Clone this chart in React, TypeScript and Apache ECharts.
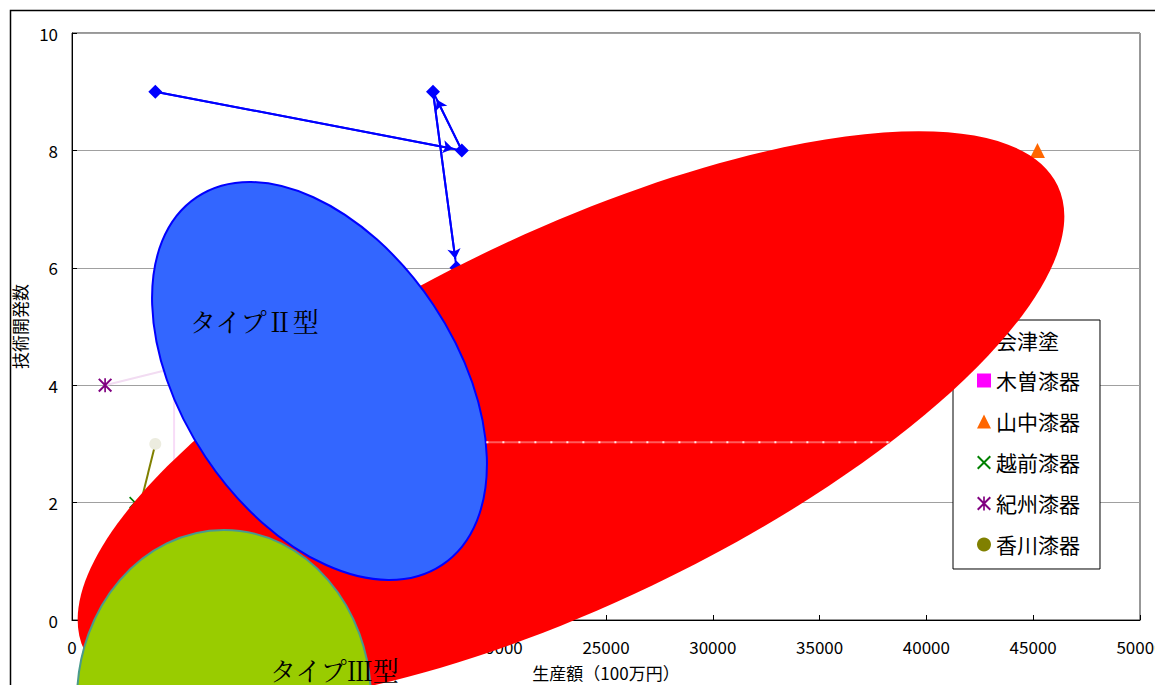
import { useEffect, useRef } from 'react';
import * as echarts from 'echarts';

// Series names (legend order)
const SERIES_NAMES = ['会津塗', '木曽漆器', '山中漆器', '越前漆器', '紀州漆器', '香川漆器'];

// [生産額(100万円), 技術開発数]
const aizuPoints = [
  [3900, 9],
  [18250, 8],
  [16900, 9],
  [18000, 6],
];
const kisoPoints = [
  [4780, 4.6],
  [4780, 2.4],
];
const yamanakaPoints = [[45200, 8]];
const echizenPoints = [[2950, 2]];
const kishuPoints = [
  [1550, 4],
  [6000, 4.4],
];
const kagawaPoints = [
  [3900, 3],
  [2780, 1.35],
];
const faintTrailPoints = [
  [19400, 3.03],
  [38300, 3.03],
];

// Axis ranges / tick spacing
const X_MIN = 0;
const X_MAX = 50000;
const X_STEP = 5000;
const Y_MIN = 0;
const Y_MAX = 10;
const Y_STEP = 2;

const X_AXIS_TITLE = '生産額（100万円）';
const Y_AXIS_TITLE = '技術開発数';
const TYPE2_LABEL = 'タイプⅡ型';
const TYPE3_LABEL = 'タイプⅢ型';

const GOTHIC = '"Noto Sans CJK JP", "Liberation Sans", sans-serif';
const MINCHO = '"Noto Serif CJK JP", "Liberation Serif", serif';

const X_MARK = 'path://M0,1L1,0L10,9L9,10ZM9,0L10,1L1,10L0,9Z';
const STAR_MARK = 'path://M0,1L1,0L10,9L9,10ZM9,0L10,1L1,10L0,9ZM4.4,0L5.6,0L5.6,10L4.4,10Z';

const ARROW_GAP = 9;

function buildOption(): any {
  return {
    animation: false,
    backgroundColor: '#ffffff',
    textStyle: { fontFamily: GOTHIC },
    grid: {
      left: 72,
      right: 15,
      top: 33,
      bottom: 65,
      outerBoundsMode: 'none',
      containLabel: false,
      show: true,
      borderColor: '#303030',
      borderWidth: 1,
      backgroundColor: 'transparent',
    },
    xAxis: {
      type: 'value',
      min: X_MIN,
      max: X_MAX,
      interval: X_STEP,
      name: X_AXIS_TITLE,
      nameLocation: 'middle',
      nameGap: 44,
      nameTextStyle: { fontSize: 17, color: '#000', fontFamily: GOTHIC },
      axisLine: { show: true, lineStyle: { color: '#000', width: 1 } },
      axisTick: { show: true, inside: true, length: 5, lineStyle: { color: '#000' } },
      axisLabel: {
        fontSize: 17,
        color: '#000',
        margin: 18,
        fontFamily: GOTHIC,
        formatter: (v: number) => String(v),
      },
      splitLine: { show: false },
    },
    yAxis: {
      type: 'value',
      min: Y_MIN,
      max: Y_MAX,
      interval: Y_STEP,
      name: Y_AXIS_TITLE,
      nameLocation: 'middle',
      nameRotate: 90,
      nameGap: 41,
      nameTextStyle: { fontSize: 17, color: '#000', fontFamily: GOTHIC },
      axisLine: { show: true, lineStyle: { color: '#000', width: 1 } },
      axisTick: { show: true, inside: true, length: 5, lineStyle: { color: '#000' } },
      axisLabel: {
        fontSize: 17,
        color: '#000',
        margin: 14,
        fontFamily: GOTHIC,
        formatter: (v: number) => String(v),
      },
      splitLine: { show: true, lineStyle: { color: '#a0a0a0', width: 1 } },
    },
    legend: {
      orient: 'vertical',
      left: 953,
      top: 320,
      padding: [9, 20, 14, 24],
      itemGap: 20,
      itemWidth: 14,
      itemHeight: 14,
      borderColor: '#000',
      borderWidth: 1,
      backgroundColor: '#fff',
      z: 4,
      textStyle: { fontSize: 21, lineHeight: 20, color: '#000', fontFamily: GOTHIC },
      data: [
        { name: SERIES_NAMES[0], icon: 'diamond' },
        { name: SERIES_NAMES[1], icon: 'rect' },
        { name: SERIES_NAMES[2], icon: 'triangle' },
        { name: SERIES_NAMES[3], icon: X_MARK },
        { name: SERIES_NAMES[4], icon: STAR_MARK },
        { name: SERIES_NAMES[5], icon: 'circle' },
      ],
    },
    series: [
      {
        name: SERIES_NAMES[0],
        type: 'line',
        data: aizuPoints,
        symbol: 'diamond',
        symbolSize: 14,
        itemStyle: { color: '#0000ff' },
        lineStyle: { color: '#0000ff', width: 2 },
        z: 3,
      },
      {
        id: 'aizu-arrows',
        type: 'lines',
        coordinateSystem: 'cartesian2d',
        symbol: ['none', 'arrow'],
        symbolSize: 10,
        lineStyle: { color: '#0000ff', width: 2, opacity: 1, curveness: 0 },
        data: [],
        z: 3,
      },
      {
        name: SERIES_NAMES[1],
        type: 'line',
        data: kisoPoints,
        symbol: 'rect',
        symbolSize: 11,
        itemStyle: { color: '#ff00ff' },
        lineStyle: { color: '#f8dcf8', width: 2 },
        z: 2,
      },
      {
        name: SERIES_NAMES[2],
        type: 'line',
        data: yamanakaPoints,
        symbol: 'triangle',
        symbolSize: 15,
        itemStyle: { color: '#ff6600' },
        lineStyle: { color: '#ff6600', width: 2 },
        z: 2,
      },
      {
        name: SERIES_NAMES[3],
        type: 'line',
        data: echizenPoints,
        symbol: X_MARK,
        symbolSize: 12,
        itemStyle: { color: '#008000' },
        lineStyle: { color: '#008000', width: 2 },
        z: 2,
      },
      {
        name: SERIES_NAMES[4],
        type: 'line',
        data: kishuPoints,
        symbol: STAR_MARK,
        symbolSize: 14,
        itemStyle: { color: '#800080' },
        lineStyle: { color: '#f2dcf2', width: 2 },
        z: 2,
      },
      {
        name: SERIES_NAMES[5],
        type: 'line',
        data: kagawaPoints.map((p, i) =>
          i === 0 ? { value: p, itemStyle: { color: '#ececdf' } } : { value: p }
        ),
        symbol: 'circle',
        symbolSize: 12,
        itemStyle: { color: '#808000' },
        lineStyle: { color: '#808000', width: 2 },
        z: 2,
      },
      // pale trail running across the red region
      {
        type: 'line',
        data: faintTrailPoints,
        symbol: 'none',
        lineStyle: { color: '#ff5a5a', width: 2 },
        z: 20,
        silent: true,
      },
      {
        type: 'line',
        data: faintTrailPoints,
        symbol: 'none',
        lineStyle: { color: '#ffe6e6', width: 2, type: [2, 14] },
        z: 21,
        silent: true,
      },
    ],
    graphic: [
      {
        type: 'rect',
        z: 0,
        silent: true,
        shape: { x: 10.5, y: 10.5, width: 1400, height: 900 },
        style: { fill: 'none', stroke: '#000', lineWidth: 1.5 },
      },
      {
        type: 'ellipse',
        z: 10,
        silent: true,
        x: 571,
        y: 418,
        rotation: (25.5 * Math.PI) / 180,
        shape: { cx: 0, cy: 0, rx: 539, ry: 186 },
        style: { fill: '#ff0000', stroke: 'none' },
      },
      {
        type: 'ellipse',
        z: 11,
        silent: true,
        x: 319.5,
        y: 381,
        rotation: (-56.3 * Math.PI) / 180,
        shape: { cx: 0, cy: 0, rx: 221, ry: 137 },
        style: { fill: '#3366ff', stroke: '#0000ff', lineWidth: 2 },
      },
      {
        type: 'ellipse',
        z: 12,
        silent: true,
        x: 224,
        y: 700,
        shape: { cx: 0, cy: 0, rx: 147, ry: 170 },
        style: { fill: '#99cc00', stroke: '#4a9a8c', lineWidth: 2 },
      },
      {
        type: 'text',
        z: 30,
        silent: true,
        x: 190,
        y: 320,
        style: {
          text: TYPE2_LABEL,
          fontSize: 26,
          fontFamily: MINCHO,
          fill: '#000',
          verticalAlign: 'middle',
        },
      },
      {
        type: 'text',
        z: 30,
        silent: true,
        x: 270,
        y: 669,
        style: {
          text: TYPE3_LABEL,
          fontSize: 26,
          fontFamily: MINCHO,
          fill: '#000',
          verticalAlign: 'middle',
        },
      },
    ],
  };
}

export default function App() {
  const ref = useRef<HTMLDivElement>(null);

  useEffect(() => {
    if (!ref.current) return;
    const chart = echarts.init(ref.current, null, { renderer: 'svg' });
    chart.setOption(buildOption());

    // Arrowheads stop just short of each diamond marker
    const arrows: any[] = [];
    for (let i = 0; i < aizuPoints.length - 1; i++) {
      const a = chart.convertToPixel({ gridIndex: 0 }, aizuPoints[i]) as number[];
      const b = chart.convertToPixel({ gridIndex: 0 }, aizuPoints[i + 1]) as number[];
      const dx = b[0] - a[0];
      const dy = b[1] - a[1];
      const len = Math.hypot(dx, dy) || 1;
      const end = [b[0] - (dx / len) * ARROW_GAP, b[1] - (dy / len) * ARROW_GAP];
      const endData = chart.convertFromPixel({ gridIndex: 0 }, end) as number[];
      arrows.push({ coords: [aizuPoints[i], endData] });
    }
    chart.setOption({ series: [{ id: 'aizu-arrows', data: arrows }] });

    return () => chart.dispose();
  }, []);

  return (
    <div
      ref={ref}
      style={{ position: 'fixed', left: 0, top: 0, width: 1155, height: 685, background: '#fff' }}
    />
  );
}
